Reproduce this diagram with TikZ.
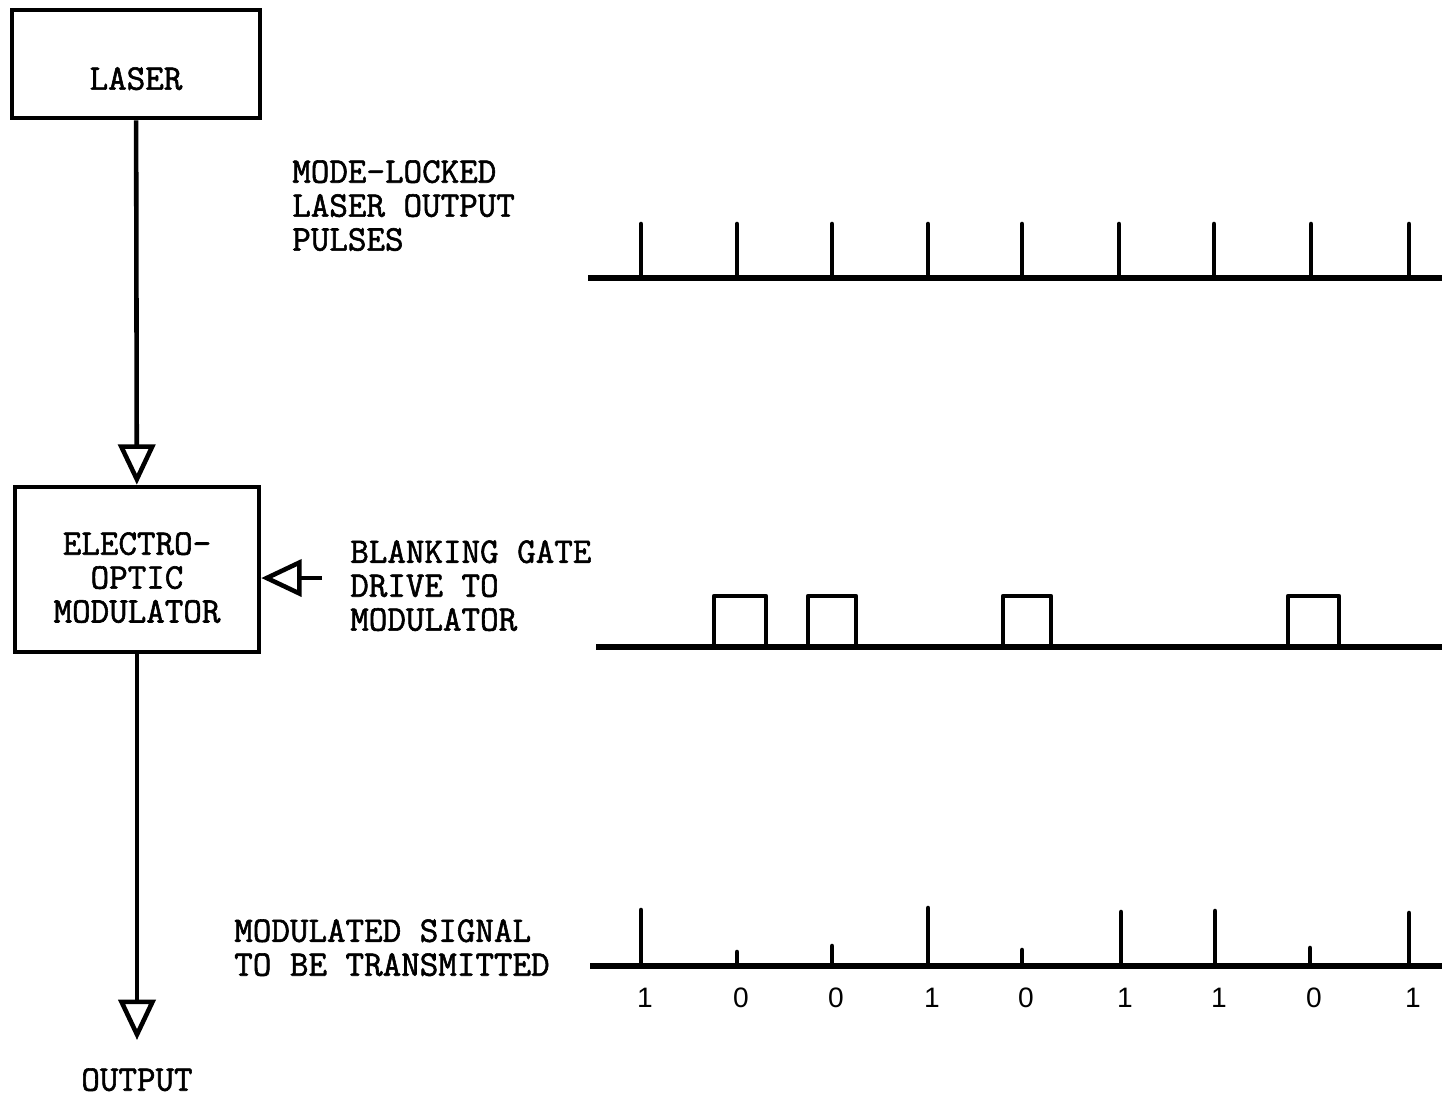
\documentclass[tikz,border=0pt]{standalone}
\usepackage{fontspec}
\setsansfont{Liberation Sans}
\newfontfamily\typefont{Latin Modern Mono}[FakeBold=1.6]
\usetikzlibrary{arrows.meta}

\begin{document}
\begin{tikzpicture}[x=0.02cm,y=-0.02cm,line width=2.6pt,
   font=\typefont\fontsize{20.5}{19.3}\selectfont,
   box/.style={draw,align=center,inner sep=0pt},
   flow/.style={-{Triangle[open,length=23pt,width=21pt]}},
   trace/.style={line width=3.1pt},
   pulse/.style={line width=2.6pt,line cap=round},
   lbl/.style={anchor=north west,align=left,inner sep=0pt},
   bit/.style={font=\sffamily\fontsize{16}{19}\selectfont,inner sep=0pt}]
  \useasboundingbox (0,0) rectangle (1442,1099);
  % blocks
  \node[box,minimum width=4.96cm,minimum height=2.16cm] (laser) at (136,64)
    {\rule{0pt}{29.5pt}LASER};
  \node[box,minimum width=4.88cm,minimum height=3.3cm] (eom) at (137,569.5)
    {\rule{0pt}{22pt}ELECTRO-\\OPTIC\\MODULATOR};
  \coordinate (gatein) at (322,578);
  \coordinate (out) at (137,1040);
  \draw[flow] (laser) -- (eom);
  \draw[flow] (gatein) -- (gatein -| eom.east);
  \draw[flow] (eom) -- (out);
  \node[anchor=north,inner sep=0pt] (outlbl) at (137,1066) {OUTPUT};
  % texts
  \node[lbl] (pulsetxt) at (290,158) {MODE-LOCKED\\LASER OUTPUT\\PULSES};
  \node[lbl] (gatetxt) at (348,538) {BLANKING GATE\\DRIVE TO\\MODULATOR};
  \node[lbl] (sigtxt) at (232,917) {MODULATED SIGNAL\\TO BE TRANSMITTED};
  % laser pulse train
  \draw[trace] (588,278) -- (1442,278);
  \foreach \x in {641,737,832,928,1022,1119,1214,1311,1409}
    \draw[pulse] (\x,278) -- (\x,224);
  % blanking gate drive
  \draw[trace] (596,647) -- (1442,647);
  \foreach \a/\b in {714/766,808/856,1003/1051,1288/1339}
    \draw[line join=round] (\a,647) |- (\b,596) -- (\b,647);
  % modulated signal
  \draw[trace] (590,966) -- (1442,966);
  \foreach \x/\h/\val in {641/910/1,737/952/0,832/946/0,928/908/1,1022/950/0,
      1121/912/1,1215/911/1,1310/948/0,1409/913/1}{
    \draw[pulse] (\x,966) -- (\x,\h);
    \node[bit] (bit\x) at (\x+4,998) {\val};
  }
\end{tikzpicture}
\end{document}
